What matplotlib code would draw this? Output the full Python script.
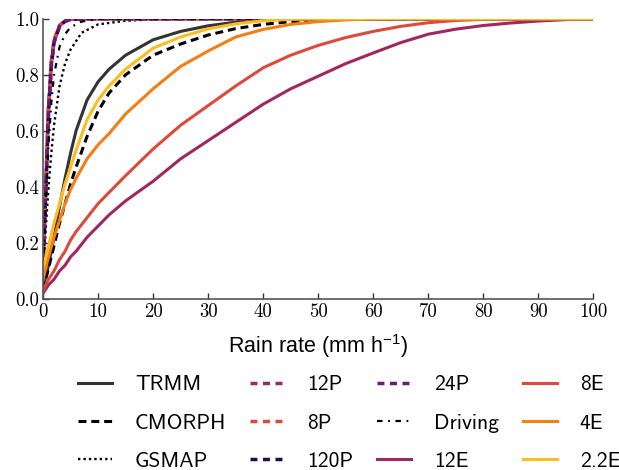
import matplotlib
matplotlib.use("Agg")
import matplotlib.pyplot as plt
from matplotlib.ticker import FormatStrFormatter

plt.rcParams['mathtext.fontset'] = 'custom'
plt.rcParams['mathtext.rm'] = 'Liberation Sans'
plt.rcParams['mathtext.it'] = 'Liberation Sans:italic'
plt.rcParams['mathtext.bf'] = 'Liberation Sans:bold'

# rain rate grids (mm/h)
rate = [0, 1, 2, 3, 4, 5, 6, 8, 10, 12, 15, 20, 25, 30, 35, 40, 45, 50, 55, 60, 65, 70, 75, 80, 85, 90, 95, 100]
rate_fine = [0, 0.5, 1, 1.5, 2, 3, 4, 5, 7, 10, 15, 20, 30, 100]

# cumulative fractions
trmm   = [0.04, 0.12, 0.22, 0.33, 0.43, 0.52, 0.60, 0.71, 0.775, 0.82, 0.87, 0.925, 0.955, 0.975, 0.988, 0.996, 0.999, 1.0, 1.0, 1.0, 1.0, 1.0, 1.0, 1.0, 1.0, 1.0, 1.0, 1.0]
cmorph = [0.03, 0.11, 0.19, 0.27, 0.34, 0.41, 0.47, 0.58, 0.67, 0.735, 0.80, 0.87, 0.91, 0.942, 0.965, 0.98, 0.99, 0.996, 1.0, 1.0, 1.0, 1.0, 1.0, 1.0, 1.0, 1.0, 1.0, 1.0]
e12    = [0.02, 0.05, 0.07, 0.10, 0.12, 0.15, 0.17, 0.22, 0.26, 0.30, 0.35, 0.42, 0.50, 0.565, 0.63, 0.695, 0.75, 0.795, 0.84, 0.878, 0.915, 0.945, 0.963, 0.976, 0.985, 0.992, 0.997, 1.0]
e8     = [0.03, 0.07, 0.10, 0.14, 0.17, 0.21, 0.24, 0.29, 0.34, 0.38, 0.44, 0.535, 0.62, 0.69, 0.76, 0.825, 0.87, 0.905, 0.933, 0.955, 0.973, 0.986, 0.994, 0.998, 1.0, 1.0, 1.0, 1.0]
e4     = [0.07, 0.15, 0.22, 0.28, 0.34, 0.39, 0.43, 0.50, 0.55, 0.59, 0.66, 0.75, 0.83, 0.885, 0.935, 0.962, 0.98, 0.99, 0.996, 1.0, 1.0, 1.0, 1.0, 1.0, 1.0, 1.0, 1.0, 1.0]
e22    = [0.11, 0.19, 0.27, 0.34, 0.41, 0.47, 0.53, 0.64, 0.71, 0.76, 0.82, 0.895, 0.935, 0.964, 0.982, 0.993, 0.998, 1.0, 1.0, 1.0, 1.0, 1.0, 1.0, 1.0, 1.0, 1.0, 1.0, 1.0]

gsmap   = [0.08, 0.25, 0.40, 0.52, 0.62, 0.76, 0.84, 0.89, 0.95, 0.98, 0.993, 0.998, 1.0, 1.0]
p12     = [0.12, 0.40, 0.68, 0.84, 0.92, 0.975, 0.992, 0.998, 1.0, 1.0, 1.0, 1.0, 1.0, 1.0]
p8      = [0.13, 0.42, 0.70, 0.85, 0.925, 0.977, 0.993, 0.998, 1.0, 1.0, 1.0, 1.0, 1.0, 1.0]
p120    = [0.10, 0.38, 0.66, 0.83, 0.915, 0.973, 0.991, 0.997, 1.0, 1.0, 1.0, 1.0, 1.0, 1.0]
p24     = [0.11, 0.39, 0.67, 0.835, 0.918, 0.974, 0.992, 0.998, 1.0, 1.0, 1.0, 1.0, 1.0, 1.0]
driving = [0.10, 0.33, 0.55, 0.70, 0.80, 0.90, 0.945, 0.97, 0.99, 1.0, 1.0, 1.0, 1.0, 1.0]

c12 = '#a0285f'
c8 = '#dc4a3d'
c120 = '#250c4f'
c24 = '#6a1a78'
c4 = '#f57d15'
c22 = '#fbbd22'

fig = plt.figure(figsize=(6.19, 4.70), dpi=100)
ax = fig.add_axes([0.0695, 0.364, 0.889, 0.596])

pdash = (0, (2.0, 1.6))
ax.plot(rate, trmm, color='#333333', lw=2.2, label='TRMM')
ax.plot(rate, cmorph, color='black', lw=2.2, ls=(0, (2.6, 1.6)), label='CMORPH')
ax.plot(rate_fine, gsmap, color='black', lw=1.7, ls=(0, (1, 1.3)), label='GSMAP')
ax.plot(rate_fine, p12, color=c12, lw=2.5, ls=pdash, label='12P')
ax.plot(rate_fine, p8, color=c8, lw=2.5, ls=pdash, label='8P')
ax.plot(rate_fine, p120, color=c120, lw=2.5, ls=pdash, label='120P')
ax.plot(rate_fine, p24, color=c24, lw=2.5, ls=pdash, label='24P')
ax.plot(rate_fine, driving, color='black', lw=1.6, ls=(0, (2.5, 2.5, 0.8, 2.5)), label='Driving')
ax.plot(rate, e12, color=c12, lw=2.2, label='12E')
ax.plot(rate, e8, color=c8, lw=2.2, label='8E')
ax.plot(rate, e4, color=c4, lw=2.2, label='4E')
ax.plot(rate, e22, color=c22, lw=2.2, label='2.2E')

ax.set_xlim(0, 100)
ax.set_ylim(0, 1)
ax.set_xticks(range(0, 101, 10))
ax.set_yticks([0, 0.2, 0.4, 0.6, 0.8, 1.0])
ax.xaxis.set_major_formatter(FormatStrFormatter('%d'))
ax.yaxis.set_major_formatter(FormatStrFormatter('%.1f'))
for lab in ax.get_xticklabels() + ax.get_yticklabels():
    lab.set_fontfamily('cmr10')
    lab.set_fontsize(13.5)
ax.tick_params(direction='in', length=4, width=1, color='#333333', pad=3)

for s in ['top', 'right']:
    ax.spines[s].set_visible(False)
for s in ['left', 'bottom']:
    ax.spines[s].set_color('#555555')
    ax.spines[s].set_linewidth(1.2)

ax.set_xlabel('Rain rate (mm h$^{-1}$)', fontfamily='Liberation Sans', fontsize=15.5, labelpad=8)

fig.legend(loc='center', bbox_to_anchor=(0.564, 0.1), ncol=4, frameon=False,
           prop={'family': 'cmss10', 'size': 15.5}, handlelength=1.58, handletextpad=1.07,
           columnspacing=1.1, labelspacing=0.9)

fig.savefig('out.png', dpi=100)
